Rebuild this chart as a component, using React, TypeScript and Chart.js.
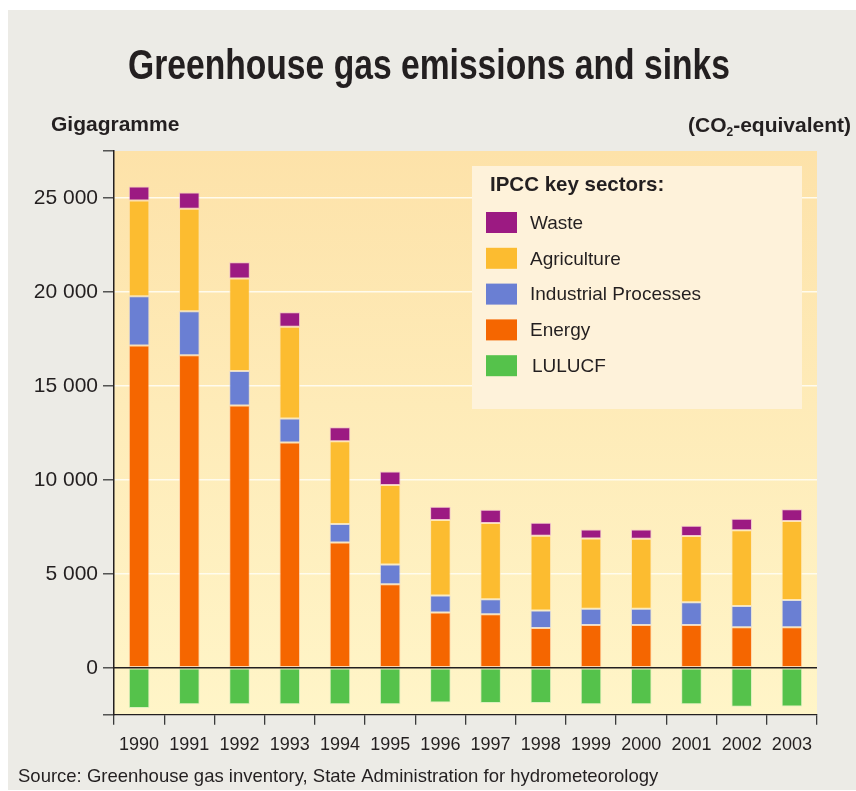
import { useEffect, useRef } from 'react';
import { Chart, registerables } from 'chart.js';

Chart.register(...registerables);

// Emission inventory, Gg CO2-equivalent, by IPCC sector
const years = ['1990', '1991', '1992', '1993', '1994', '1995', '1996', '1997', '1998', '1999', '2000', '2001', '2002', '2003'];
const energy = [17150, 16630, 13950, 11980, 6660, 4440, 2940, 2850, 2110, 2270, 2270, 2270, 2160, 2160];
const industrial = [2620, 2340, 1840, 1290, 990, 1060, 910, 790, 940, 870, 870, 1210, 1120, 1440];
const agriculture = [5100, 5450, 4920, 4870, 4400, 4220, 4010, 4060, 3980, 3740, 3730, 3530, 4030, 4210];
const waste = [740, 870, 870, 780, 750, 720, 710, 710, 690, 480, 480, 550, 620, 620];
const lulucf = [-2150, -1940, -1940, -1940, -1940, -1940, -1850, -1880, -1880, -1940, -1940, -1940, -2080, -2060];

const yTicks = [-2500, 0, 5000, 10000, 15000, 20000, 25000, 27500];
const yLabelled = [0, 5000, 10000, 15000, 20000, 25000];

const COLORS = {
  waste: '#9c1a82',
  agriculture: '#fcbc30',
  industrial: '#6a7fd3',
  energy: '#f56600',
  lulucf: '#55c24b',
};

const FONT = '"Liberation Sans", Arial, Helvetica, sans-serif';
const INK = '#231f20';

const W = 848;
const H = 780;

function fmt(v: number): string {
  return String(Math.abs(v)).replace(/\B(?=(\d{3})+(?!\d))/g, ' ');
}

// legend rows listed top to bottom, by dataset index
const legendOrder = [3, 2, 1, 0, 4];

const decor = {
  id: 'decor',
  beforeDraw(chart: any) {
    const { ctx, chartArea: a } = chart;
    ctx.save();
    const g = ctx.createLinearGradient(0, a.top, 0, a.bottom);
    g.addColorStop(0, '#fde2a9');
    g.addColorStop(0.45, '#feebb8');
    g.addColorStop(1, '#fff5c8');
    ctx.fillStyle = g;
    ctx.fillRect(a.left, a.top, a.right - a.left, a.bottom - a.top);
    ctx.restore();
  },
  afterDatasetsDraw(chart: any) {
    const { ctx, chartArea: a } = chart;
    const y0 = chart.scales.y.getPixelForValue(0);
    ctx.save();
    ctx.strokeStyle = '#231f20';
    ctx.lineWidth = 1.3;
    ctx.beginPath();
    ctx.moveTo(a.left, y0);
    ctx.lineTo(a.right, y0);
    ctx.stroke();

    // legend panel
    const bx = 464, by = 156, bw = 330, bh = 243;
    ctx.fillStyle = '#fef2da';
    ctx.fillRect(bx, by, bw, bh);
    ctx.fillStyle = INK;
    ctx.font = `bold 20.5px ${FONT}`;
    ctx.textAlign = 'left';
    ctx.textBaseline = 'alphabetic';
    ctx.fillText('IPCC key sectors:', 482, 181);
    ctx.font = `19px ${FONT}`;
    ctx.textBaseline = 'middle';
    legendOrder.forEach((di, i) => {
      const ds = chart.data.datasets[di];
      const cy = 212.5 + i * 35.8;
      ctx.fillStyle = ds.backgroundColor;
      ctx.fillRect(478, cy - 10.5, 31, 21);
      ctx.fillStyle = INK;
      ctx.fillText(ds.label, di === 4 ? 524 : 522, cy + 1);
    });
    ctx.restore();
  },
  afterDraw(chart: any) {
    const { ctx } = chart;
    ctx.save();
    ctx.fillStyle = INK;
    ctx.textBaseline = 'alphabetic';

    // title, condensed to its column
    const title = 'Greenhouse gas emissions and sinks';
    ctx.font = `bold 43px ${FONT}`;
    const tw = ctx.measureText(title).width;
    const target = 602;
    ctx.save();
    ctx.translate(120, 69);
    ctx.scale(target / tw, 1);
    ctx.textAlign = 'left';
    ctx.fillText(title, 0, 0);
    ctx.restore();

    ctx.font = `bold 21px ${FONT}`;
    ctx.textAlign = 'left';
    ctx.fillText('Gigagramme', 43, 121);

    // (CO2-equivalent), right aligned with a subscript 2
    const a1 = '(CO', a2 = '2', a3 = '-equivalent)';
    ctx.font = `bold 21px ${FONT}`;
    const w1 = ctx.measureText(a1).width;
    const w3 = ctx.measureText(a3).width;
    ctx.font = `bold 12px ${FONT}`;
    const w2 = ctx.measureText(a2).width;
    let x = 843 - (w1 + w2 + w3);
    ctx.font = `bold 21px ${FONT}`;
    ctx.fillText(a1, x, 122);
    x += w1;
    ctx.font = `bold 12px ${FONT}`;
    ctx.fillText(a2, x, 126);
    x += w2;
    ctx.font = `bold 21px ${FONT}`;
    ctx.fillText(a3, x, 122);

    ctx.font = `18.5px ${FONT}`;
    ctx.fillText('Source: Greenhouse gas inventory, State Administration for hydrometeorology', 10, 772);
    ctx.restore();
  },
};

export default function App() {
  const ref = useRef<HTMLCanvasElement>(null);

  useEffect(() => {
    if (!ref.current) return;
    const bar = (label: string, data: number[], color: string, edge: string) => ({
      label,
      data,
      backgroundColor: color,
      borderColor: edge,
      borderWidth: 1,
      borderSkipped: false,
      stack: 's',
      barPercentage: 0.41,
      categoryPercentage: 1,
    });
    const chart = new Chart(ref.current, {
      type: 'bar',
      data: {
        labels: years,
        datasets: [
          bar('Energy', energy, COLORS.energy, 'rgba(255,190,150,0.55)'),
          bar('Industrial Processes', industrial, COLORS.industrial, 'rgba(200,205,240,0.5)'),
          bar('Agriculture', agriculture, COLORS.agriculture, 'rgba(255,225,170,0.6)'),
          bar('Waste', waste, COLORS.waste, 'rgba(230,170,215,0.6)'),
          bar('LULUCF', lulucf, COLORS.lulucf, 'rgba(190,235,180,0.55)'),
        ],
      },
      options: {
        responsive: false,
        animation: false,
        layout: { padding: { top: 141, right: 39, left: 0, bottom: 0 } },
        plugins: {
          legend: { display: false },
          title: { display: false },
          tooltip: { enabled: false },
        },
        scales: {
          x: {
            stacked: true,
            afterFit: (s: any) => { s.height = 75.3; },
            grid: {
              offset: true,
              drawOnChartArea: false,
              drawTicks: true,
              tickLength: 10,
              tickColor: '#3a3a3a',
              lineWidth: 1.3,
            },
            border: { display: true, color: '#231f20', width: 1.3 },
            ticks: {
              color: INK,
              font: { family: FONT, size: 18 },
              padding: 10,
              maxRotation: 0,
              autoSkip: false,
            },
          },
          y: {
            stacked: true,
            min: -2500,
            max: 27500,
            afterFit: (s: any) => { s.width = 106; },
            afterBuildTicks: (s: any) => { s.ticks = yTicks.map((v) => ({ value: v })); },
            grid: {
              drawTicks: true,
              tickLength: 11,
              tickColor: '#3a3a3a',
              tickWidth: 1.3,
              color: (c: any) => {
                const v = c.tick ? c.tick.value : 0;
                return v > 0 && v < 27500 ? 'rgba(255,252,240,0.95)' : 'rgba(0,0,0,0)';
              },
              lineWidth: 1.6,
            },
            border: { display: true, color: '#231f20', width: 1.5 },
            ticks: {
              color: INK,
              font: { family: FONT, size: 21 },
              padding: 5,
              callback: (v: any) => (yLabelled.includes(Number(v)) ? fmt(Number(v)) : ''),
            },
          },
        },
      },
      plugins: [decor],
    } as any);
    return () => chart.destroy();
  }, []);

  return (
    <div
      style={{
        position: 'fixed',
        left: 8,
        top: 10,
        width: W,
        height: H,
        background: '#ecebe6',
      }}
    >
      <canvas ref={ref} width={W} height={H} style={{ display: 'block' }} />
    </div>
  );
}
